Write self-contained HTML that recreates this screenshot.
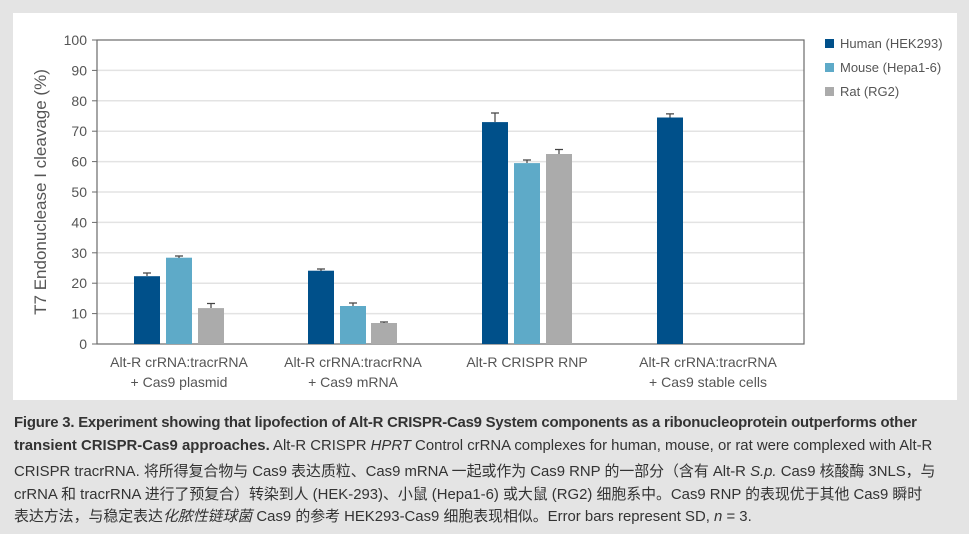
<!DOCTYPE html>
<html><head><meta charset="utf-8"><style>
html,body{margin:0;padding:0;}
body{width:969px;height:534px;background:#e4e4e4;position:relative;overflow:hidden;font-family:"Liberation Sans","Noto Sans CJK SC",sans-serif;}
#panel{position:absolute;left:13px;top:13px;width:944px;height:387px;background:#fff;}
svg{position:absolute;left:0;top:0;}
.cap{position:absolute;left:14px;font-size:14.9px;color:#333;white-space:nowrap;letter-spacing:0;}
</style></head><body>
<div id="panel"></div>
<svg width="969" height="534" xmlns="http://www.w3.org/2000/svg" font-family="Liberation Sans, sans-serif">
<g stroke="#e3e3e3" stroke-width="1.5">
<line x1="97" x2="804" y1="70.4" y2="70.4"/><line x1="97" x2="804" y1="100.8" y2="100.8"/>
<line x1="97" x2="804" y1="131.2" y2="131.2"/><line x1="97" x2="804" y1="161.6" y2="161.6"/>
<line x1="97" x2="804" y1="192" y2="192"/><line x1="97" x2="804" y1="222.4" y2="222.4"/>
<line x1="97" x2="804" y1="252.8" y2="252.8"/><line x1="97" x2="804" y1="283.2" y2="283.2"/>
<line x1="97" x2="804" y1="313.6" y2="313.6"/>
</g>
<rect x="97" y="40" width="707" height="304" fill="none" stroke="#6a6a6a" stroke-width="1.2"/>
<g stroke="#6a6a6a" stroke-width="1">
<line x1="92" x2="97" y1="40" y2="40"/><line x1="92" x2="97" y1="70.4" y2="70.4"/><line x1="92" x2="97" y1="100.8" y2="100.8"/><line x1="92" x2="97" y1="131.2" y2="131.2"/><line x1="92" x2="97" y1="161.6" y2="161.6"/><line x1="92" x2="97" y1="192" y2="192"/><line x1="92" x2="97" y1="222.4" y2="222.4"/><line x1="92" x2="97" y1="252.8" y2="252.8"/><line x1="92" x2="97" y1="283.2" y2="283.2"/><line x1="92" x2="97" y1="313.6" y2="313.6"/><line x1="92" x2="97" y1="344" y2="344"/>
</g>
<g font-size="14" fill="#555" text-anchor="end">
<text x="87" y="45">100</text><text x="87" y="75.4">90</text><text x="87" y="105.8">80</text><text x="87" y="136.2">70</text><text x="87" y="166.6">60</text><text x="87" y="197">50</text><text x="87" y="227.4">40</text><text x="87" y="257.8">30</text><text x="87" y="288.2">20</text><text x="87" y="318.6">10</text><text x="87" y="349">0</text>
</g>
<text transform="translate(46,192) rotate(-90)" font-size="17" fill="#555" text-anchor="middle">T7 Endonuclease I cleavage (%)</text>
<g>
<rect x="134" y="276.2" width="26" height="67.8" fill="#00508a"/>
<rect x="166" y="257.7" width="26" height="86.3" fill="#5eaac8"/>
<rect x="198" y="308.1" width="26" height="35.9" fill="#ababab"/>
<rect x="308" y="270.7" width="26" height="73.3" fill="#00508a"/>
<rect x="340" y="306" width="26" height="38" fill="#5eaac8"/>
<rect x="371" y="323" width="26" height="21" fill="#ababab"/>
<rect x="482" y="122.1" width="26" height="221.9" fill="#00508a"/>
<rect x="514" y="163.1" width="26" height="180.9" fill="#5eaac8"/>
<rect x="546" y="154" width="26" height="190" fill="#ababab"/>
<rect x="657" y="117.5" width="26" height="226.5" fill="#00508a"/>
</g>
<g stroke="#444" stroke-width="1.2">
<path d="M147 276v-3M143 273h8"/>
<path d="M179 258v-2M175 256h8"/>
<path d="M211 308v-4.5M207 303.5h8"/>
<path d="M321 271v-2M317 269h8"/>
<path d="M353 306v-3M349 303h8"/>
<path d="M384 323v-1M380 322h8"/>
<path d="M495 122v-9M491 113h8"/>
<path d="M527 163v-3M523 160h8"/>
<path d="M559 154v-4.5M555 149.5h8"/>
<path d="M670 117.5v-3.6M666 113.9h8"/>
</g>
<g font-size="14" fill="#555" text-anchor="middle">
<text x="179" y="367">Alt-R crRNA:tracrRNA</text><text x="179" y="387">+ Cas9 plasmid</text>
<text x="353" y="367">Alt-R crRNA:tracrRNA</text><text x="353" y="387">+ Cas9 mRNA</text>
<text x="527" y="367">Alt-R CRISPR RNP</text>
<text x="708" y="367">Alt-R crRNA:tracrRNA</text><text x="708" y="387">+ Cas9 stable cells</text>
</g>
<rect x="825" y="39" width="9" height="9" fill="#00508a"/>
<rect x="825" y="63" width="9" height="9" fill="#5eaac8"/>
<rect x="825" y="87" width="9" height="9" fill="#ababab"/>
<g font-size="13" fill="#555">
<text x="840" y="48">Human (HEK293)</text><text x="840" y="72">Mouse (Hepa1-6)</text><text x="840" y="96">Rat (RG2)</text>
</g>
</svg>
<div class="cap" style="top:415px;font-weight:bold;letter-spacing:-0.2px;">Figure 3. Experiment showing that lipofection of Alt-R CRISPR-Cas9 System components as a ribonucleoprotein outperforms other</div>
<div class="cap" style="top:438px;"><b>transient CRISPR-Cas9 approaches.</b> Alt-R CRISPR <i>HPRT</i> Control crRNA complexes for human, mouse, or rat were complexed with Alt-R</div>
<div class="cap" style="top:460px;">CRISPR tracrRNA. 将所得复合物与 Cas9 表达质粒、Cas9 mRNA 一起或作为 Cas9 RNP 的一部分（含有 Alt-R <i>S.p.</i> Cas9 核酸酶 3NLS，与</div>
<div class="cap" style="top:483px;">crRNA 和 tracrRNA 进行了预复合）转染到人 (HEK-293)、小鼠 (Hepa1-6) 或大鼠 (RG2) 细胞系中。Cas9 RNP 的表现优于其他 Cas9 瞬时</div>
<div class="cap" style="top:505px;">表达方法，与稳定表达<i>化脓性链球菌</i> Cas9 的参考 HEK293-Cas9 细胞表现相似。Error bars represent SD, <i>n</i> = 3.</div>
</body></html>
